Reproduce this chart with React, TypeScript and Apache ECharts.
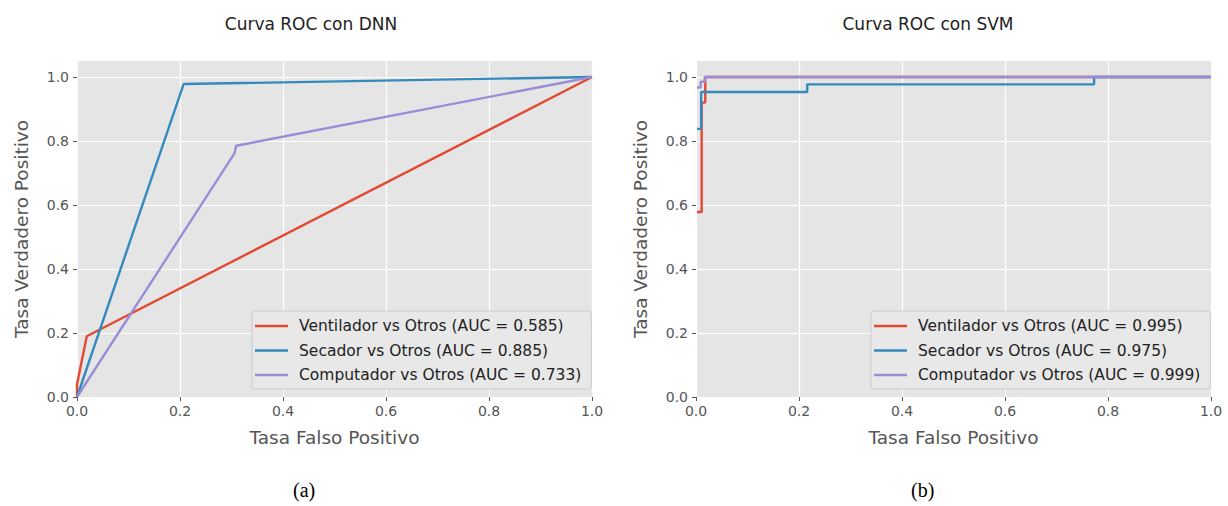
import React, { useEffect, useRef } from "react";
import * as echarts from "echarts";

// ---- Data ----
const titles = ["Curva ROC con DNN", "Curva ROC con SVM"];
const captions = ["(a)", "(b)"];
const xLabel = "Tasa Falso Positivo";
const yLabel = "Tasa Verdadero Positivo";
const yTicks = [0, 0.2, 0.4, 0.6, 0.8, 1.0];

const dnnNames = [
  "Ventilador vs Otros (AUC = 0.585)",
  "Secador vs Otros (AUC = 0.885)",
  "Computador vs Otros (AUC = 0.733)",
];
const svmNames = [
  "Ventilador vs Otros (AUC = 0.995)",
  "Secador vs Otros (AUC = 0.975)",
  "Computador vs Otros (AUC = 0.999)",
];

// DNN curves
const dnnVentFpr = [0, 0, 0.019, 1];
const dnnVentTpr = [0, 0.04, 0.19, 1];
const dnnSecFpr = [0, 0.207, 1];
const dnnSecTpr = [0, 0.978, 1];
const dnnCompFpr = [0, 0.306, 0.309, 1];
const dnnCompTpr = [0, 0.762, 0.785, 1];

// SVM curves
const svmVentFpr = [0.002, 0.011, 0.011, 0.018, 0.018, 1];
const svmVentTpr = [0.578, 0.578, 0.92, 0.92, 1, 1];
const svmSecFpr = [0.002, 0.01, 0.01, 0.216, 0.216, 0.773, 0.773, 1];
const svmSecTpr = [0.838, 0.838, 0.953, 0.953, 0.977, 0.977, 1, 1];
const svmCompFpr = [0.002, 0.009, 0.009, 0.017, 0.017, 1];
const svmCompTpr = [0.967, 0.967, 0.985, 0.985, 1, 1];

const colors = ["#E24A33", "#348ABD", "#988ED5"];

const zip = (xs: number[], ys: number[]) => xs.map((x, i) => [x, ys[i]]);

const FONT = "DejaVu Sans";

export default function App() {
  const ref = useRef<HTMLDivElement>(null);

  useEffect(() => {
    document.body.style.margin = "0";
    const chart = echarts.init(ref.current!, undefined, { renderer: "svg" });

    const gridLefts = [77, 696];
    const grids = gridLefts.map((left) => ({
      left,
      top: 61,
      width: 515,
      height: 336,
      show: true,
      backgroundColor: "#E5E5E5",
      borderWidth: 0,
    }));

    const xAxes = gridLefts.map((_, i) => ({
      type: "value",
      gridIndex: i,
      min: 0,
      max: 1,
      interval: 0.2,
      name: xLabel,
      nameLocation: "middle",
      nameGap: 31,
      nameTextStyle: { fontFamily: FONT, fontSize: 18.5, color: "#555555" },
      axisLine: { show: false },
      axisTick: { show: true, length: 4, lineStyle: { color: "#555555", width: 1 } },
      axisLabel: {
        fontFamily: FONT,
        fontSize: 14,
        color: "#555555",
        margin: 7,
        formatter: (v: number) => v.toFixed(1),
      },
      splitLine: { show: true, lineStyle: { color: "#FFFFFF", width: 1.2 } },
    }));

    const yAxes = gridLefts.map((_, i) => ({
      type: "value",
      gridIndex: i,
      min: 0,
      max: 1.05,
      name: yLabel,
      nameLocation: "middle",
      nameGap: 46,
      nameTextStyle: { fontFamily: FONT, fontSize: 18.5, color: "#555555" },
      axisLine: { show: false },
      axisTick: {
        show: true,
        length: 4,
        customValues: yTicks,
        lineStyle: { color: "#555555", width: 1 },
      },
      axisLabel: {
        fontFamily: FONT,
        fontSize: 14,
        color: "#555555",
        margin: 8,
        customValues: yTicks,
        formatter: (v: number) => v.toFixed(1),
      },
      splitLine: { show: true, lineStyle: { color: "#FFFFFF", width: 1.2 } },
    }));

    const mkSeries = (name: string, data: number[][], color: string, idx: number) => ({
      type: "line",
      name,
      data,
      xAxisIndex: idx,
      yAxisIndex: idx,
      showSymbol: false,
      symbol: "none",
      clip: true,
      lineStyle: { color, width: 2.4 },
      itemStyle: { color },
    });

    const series = [
      mkSeries(dnnNames[0], zip(dnnVentFpr, dnnVentTpr), colors[0], 0),
      mkSeries(dnnNames[1], zip(dnnSecFpr, dnnSecTpr), colors[1], 0),
      mkSeries(dnnNames[2], zip(dnnCompFpr, dnnCompTpr), colors[2], 0),
      mkSeries(svmNames[0], zip(svmVentFpr, svmVentTpr), colors[0], 1),
      mkSeries(svmNames[1], zip(svmSecFpr, svmSecTpr), colors[1], 1),
      mkSeries(svmNames[2], zip(svmCompFpr, svmCompTpr), colors[2], 1),
    ];

    const mkLegend = (data: string[], left: number) => ({
      data,
      left,
      top: 311,
      orient: "vertical",
      icon: "rect",
      itemWidth: 33,
      itemHeight: 2.6,
      itemGap: 8.5,
      padding: [7, 10, 6, 3],
      backgroundColor: "#E8E8E8",
      borderColor: "#CCCCCC",
      borderWidth: 1,
      borderRadius: 3,
      selectedMode: false,
      textStyle: { fontFamily: FONT, fontSize: 15.5, color: "#222222", padding: [0, 0, 0, 6] },
    });

    chart.setOption({
      animation: false,
      color: colors,
      title: [
        {
          text: titles[0],
          left: 306,
          top: 10,
          textAlign: "center",
          textStyle: { fontFamily: FONT, fontSize: 17, fontWeight: "normal", color: "#222222" },
        },
        {
          text: titles[1],
          left: 923,
          top: 10,
          textAlign: "center",
          textStyle: { fontFamily: FONT, fontSize: 17, fontWeight: "normal", color: "#222222" },
        },
      ],
      grid: grids,
      xAxis: xAxes,
      yAxis: yAxes,
      legend: [mkLegend(dnnNames, 252), mkLegend(svmNames, 871)],
      series,
      graphic: [
        {
          type: "text",
          left: 305 - 12,
          top: 480,
          style: {
            text: captions[0],
            font: '20px "Liberation Serif", "Times New Roman", serif',
            fill: "#000000",
          },
        },
        {
          type: "text",
          left: 923 - 12,
          top: 480,
          style: {
            text: captions[1],
            font: '20px "Liberation Serif", "Times New Roman", serif',
            fill: "#000000",
          },
        },
      ],
    });

    return () => chart.dispose();
  }, []);

  return <div ref={ref} style={{ width: 1228, height: 506 }} />;
}
